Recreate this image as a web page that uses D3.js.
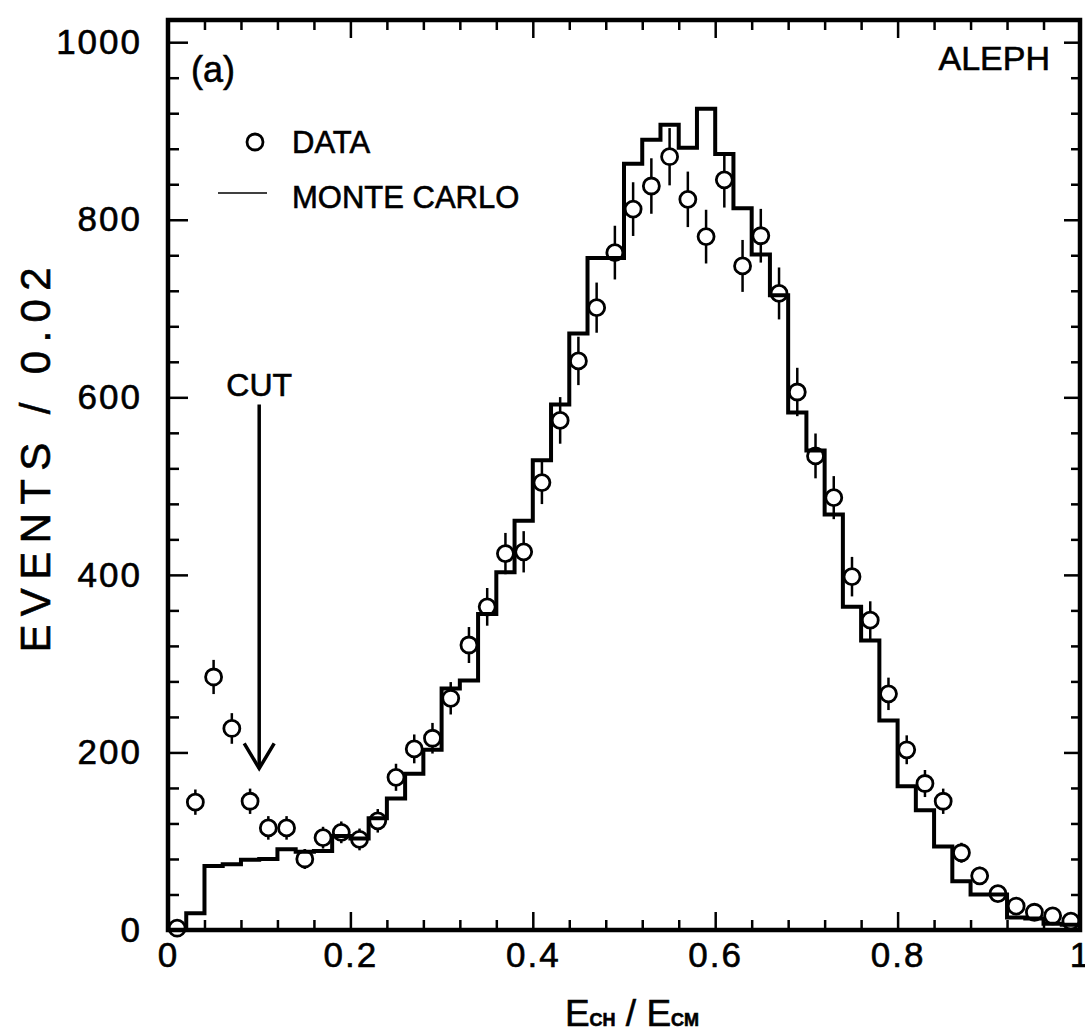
<!DOCTYPE html>
<html>
<head>
<meta charset="utf-8">
<script src="https://cdn.jsdelivr.net/npm/d3@7"></script>
<style>
  body { margin: 0; background: #fff; }
  svg { display: block; }
  text { font-family: "Liberation Sans", Arial, sans-serif; fill: #000; }
</style>
</head>
<body>
<div id="chart"></div>
<script>
// bin centres (width 0.02)
const binCenters = [0.01, 0.03, 0.05, 0.07, 0.09, 0.11, 0.13, 0.15, 0.17, 0.19,
    0.21, 0.23, 0.25, 0.27, 0.29, 0.31, 0.33, 0.35, 0.37, 0.39,
    0.41, 0.43, 0.45, 0.47, 0.49, 0.51, 0.53, 0.55, 0.57, 0.59,
    0.61, 0.63, 0.65, 0.67, 0.69, 0.71, 0.73, 0.75, 0.77, 0.79,
    0.81, 0.83, 0.85, 0.87, 0.89, 0.91, 0.93, 0.95, 0.97, 0.99];

const dataEvents = [2, 144, 285, 227, 145, 115, 115, 80, 104, 110,
    102, 123, 172, 204, 216, 261, 321, 364, 424, 426,
    504, 574, 641, 701, 763, 812, 838, 871, 823, 781,
    845, 748, 782, 717, 606, 534, 487, 398, 349, 266,
    203, 165, 145, 87, 61, 41, 27, 20, 16, 10];

const dataErrors = [1, 12, 17, 15, 12, 11, 11, 9, 10, 10,
    10, 11, 13, 14, 15, 16, 18, 19, 21, 21,
    22, 24, 25, 26, 28, 28, 29, 30, 29, 28,
    29, 27, 28, 27, 25, 23, 22, 20, 19, 16,
    14, 13, 12, 9, 8, 6, 5, 4, 4, 3];

const mcEvents = [0, 19, 72, 74, 79, 80, 91, 88, 89, 106,
    103, 126, 148, 176, 203, 272, 281, 356, 403, 461,
    529, 592, 672, 757, 757, 863, 890, 907, 881, 925,
    874, 813, 761, 715, 583, 540, 468, 364, 326, 236,
    162, 135, 94, 55, 40, 40, 14, 13, 7, 6];

const binWidth = 0.02;
const xMajor = [0, 0.2, 0.4, 0.6, 0.8, 1];
const xMinor = [0.04, 0.08, 0.12, 0.16, 0.24, 0.28, 0.32, 0.36, 0.44, 0.48, 0.52, 0.56,
    0.64, 0.68, 0.72, 0.76, 0.84, 0.88, 0.92, 0.96];
const yMajor = [0, 200, 400, 600, 800, 1000];
const yMinor = [40, 80, 120, 160, 240, 280, 320, 360, 440, 480, 520, 560,
    640, 680, 720, 760, 840, 880, 920, 960];

const cutValue = 0.1;

const width = 1085, height = 1036;
const plot = {left: 168, right: 1080, top: 20, bottom: 930};

const svg = d3.select("#chart").append("svg")
    .attr("width", width)
    .attr("height", height);

svg.append("rect").attr("width", width).attr("height", height).attr("fill", "#fff");

const x = d3.scaleLinear().domain([0, 1]).range([plot.left, plot.right]);
const y = d3.scaleLinear().domain([0, 1025]).range([plot.bottom, plot.top]);

// axes, ticks pointing inward
function styleAxis(g, w) {
    g.select(".domain").remove();
    g.selectAll(".tick line").attr("stroke", "#000").attr("stroke-width", w);
    g.selectAll(".tick text")
        .attr("font-family", "Liberation Sans, Arial, sans-serif")
        .attr("font-size", 35)
        .attr("letter-spacing", 2)
        .attr("fill", "#000")
        .attr("stroke", "#000")
        .attr("stroke-width", 0.6);
}

const fmtX = d => d === 0 ? "0" : d === 1 ? "1" : d3.format(".1f")(d);

svg.append("g").attr("transform", "translate(0," + plot.bottom + ")")
    .call(d3.axisBottom(x).tickValues(xMajor).tickFormat(fmtX).tickSizeInner(-18).tickSizeOuter(0).tickPadding(12))
    .call(g => styleAxis(g, 2.5));
svg.append("g").attr("transform", "translate(0," + plot.bottom + ")")
    .call(d3.axisBottom(x).tickValues(xMinor).tickFormat("").tickSizeInner(-10).tickSizeOuter(0))
    .call(g => styleAxis(g, 2.5));
svg.append("g").attr("transform", "translate(0," + plot.top + ")")
    .call(d3.axisTop(x).tickValues(xMajor).tickFormat("").tickSizeInner(-18).tickSizeOuter(0))
    .call(g => styleAxis(g, 2.5));
svg.append("g").attr("transform", "translate(0," + plot.top + ")")
    .call(d3.axisTop(x).tickValues(xMinor).tickFormat("").tickSizeInner(-10).tickSizeOuter(0))
    .call(g => styleAxis(g, 2.5));

svg.append("g").attr("transform", "translate(" + plot.left + ",0)")
    .call(d3.axisLeft(y).tickValues(yMajor).tickFormat(d3.format("d")).tickSizeInner(-20).tickSizeOuter(0).tickPadding(26))
    .call(g => styleAxis(g, 2.5));
svg.append("g").attr("transform", "translate(" + plot.left + ",0)")
    .call(d3.axisLeft(y).tickValues(yMinor).tickFormat("").tickSizeInner(-11).tickSizeOuter(0))
    .call(g => styleAxis(g, 2.5));
svg.append("g").attr("transform", "translate(" + plot.right + ",0)")
    .call(d3.axisRight(y).tickValues(yMajor).tickFormat("").tickSizeInner(-16).tickSizeOuter(0))
    .call(g => styleAxis(g, 2.5));
svg.append("g").attr("transform", "translate(" + plot.right + ",0)")
    .call(d3.axisRight(y).tickValues(yMinor).tickFormat("").tickSizeInner(-9).tickSizeOuter(0))
    .call(g => styleAxis(g, 2.5));

// frame
svg.append("rect")
    .attr("x", plot.left).attr("y", plot.top)
    .attr("width", plot.right - plot.left).attr("height", plot.bottom - plot.top)
    .attr("fill", "none").attr("stroke", "#000").attr("stroke-width", 4.5);

// Monte Carlo histogram
const mcPts = binCenters.map((c, i) => [c - binWidth / 2, mcEvents[i]]);
mcPts.push([binCenters[binCenters.length - 1] + binWidth / 2, mcEvents[mcEvents.length - 1]]);

svg.append("path")
    .datum(mcPts)
    .attr("fill", "none")
    .attr("stroke", "#000")
    .attr("stroke-width", 4)
    .attr("stroke-linejoin", "miter")
    .attr("d", d3.line()
        .x(d => x(d[0]))
        .y(d => y(d[1]))
        .curve(d3.curveStepAfter));

// data points with error bars
const r = 8;
const pts = svg.append("g");
binCenters.forEach((c, i) => {
    const cx = x(c), cy = y(dataEvents[i]);
    const top = y(dataEvents[i] + dataErrors[i]) - 2;
    const bot = y(Math.max(0, dataEvents[i] - dataErrors[i])) + 2;
    if (top < cy - r) {
        pts.append("line").attr("x1", cx).attr("x2", cx).attr("y1", top).attr("y2", cy - r)
            .attr("stroke", "#000").attr("stroke-width", 2.5);
    }
    if (bot > cy + r) {
        pts.append("line").attr("x1", cx).attr("x2", cx).attr("y1", cy + r).attr("y2", bot)
            .attr("stroke", "#000").attr("stroke-width", 2.5);
    }
    pts.append("circle").attr("cx", cx).attr("cy", cy).attr("r", r)
        .attr("fill", "none").attr("stroke", "#000").attr("stroke-width", 2.8);
});

// cut arrow
const ax = x(cutValue);
svg.append("line")
    .attr("x1", ax).attr("x2", ax)
    .attr("y1", y(592)).attr("y2", y(182))
    .attr("stroke", "#000").attr("stroke-width", 3.5);
svg.append("path")
    .attr("d", "M" + (ax - 15) + "," + (y(182) - 25) + "L" + ax + "," + y(182) + "L" + (ax + 15) + "," + (y(182) - 25))
    .attr("fill", "none").attr("stroke", "#000").attr("stroke-width", 3.5);
svg.append("text")
    .attr("x", ax).attr("y", y(602))
    .attr("text-anchor", "middle")
    .attr("font-size", 32).attr("stroke", "#000").attr("stroke-width", 0.6)
    .text("CUT");

// labels
const lbl = (tx, ty, s, size, anchor) => svg.append("text")
    .attr("x", tx).attr("y", ty)
    .attr("text-anchor", anchor || "start")
    .attr("font-size", size)
    .attr("stroke", "#000").attr("stroke-width", 0.6)
    .text(s);

lbl(191, 82, "(a)", 36);
lbl(1050, 70, "ALEPH", 34, "end");

// legend
svg.append("circle").attr("cx", 255).attr("cy", 142).attr("r", r)
    .attr("fill", "none").attr("stroke", "#000").attr("stroke-width", 2.8);
lbl(292, 153, "DATA", 31);
svg.append("line").attr("x1", 218).attr("x2", 267).attr("y1", 193).attr("y2", 193)
    .attr("stroke", "#000").attr("stroke-width", 1.5);
lbl(292, 208, "MONTE CARLO", 31);

// x title
const xt = svg.append("text")
    .attr("x", 632).attr("y", 1026)
    .attr("text-anchor", "middle")
    .attr("font-size", 37)
    .attr("stroke", "#000").attr("stroke-width", 0.6);
xt.append("tspan").text("E");
xt.append("tspan").attr("font-size", 18).attr("font-weight", "bold").text("CH");
xt.append("tspan").text(" / E");
xt.append("tspan").attr("font-size", 18).attr("font-weight", "bold").text("CM");

// y title
svg.append("text")
    .attr("transform", "translate(50," + 460 + ") rotate(-90)")
    .attr("text-anchor", "middle")
    .attr("font-size", 42)
    .attr("textLength", 385)
    .attr("lengthAdjust", "spacing")
    .attr("stroke", "#000").attr("stroke-width", 0.6)
    .text("EVENTS / 0.02");
</script>
</body>
</html>
